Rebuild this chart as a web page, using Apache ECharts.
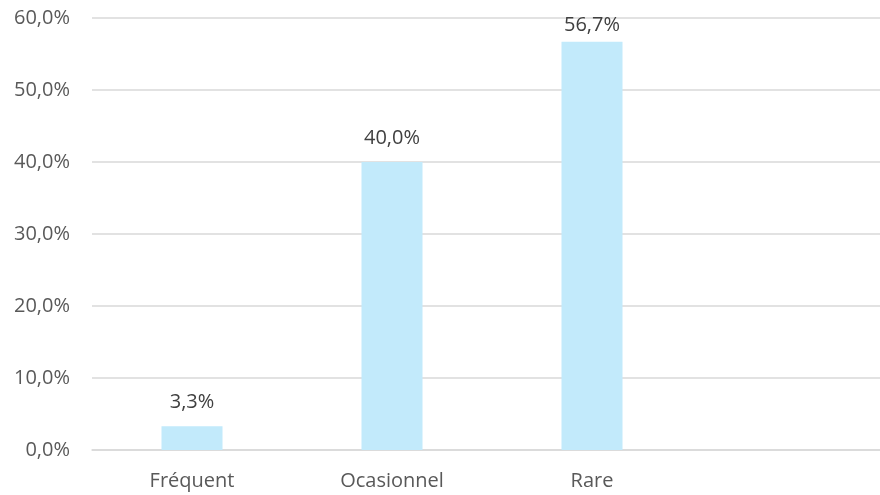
<!DOCTYPE html>
<html><head><meta charset="utf-8">
<script src="https://cdn.jsdelivr.net/npm/echarts@6/dist/echarts.min.js"></script>
<style>html,body{margin:0;padding:0;overflow:hidden;background:#fff;width:880px;height:495px}#c{width:892px;height:495px}</style>
</head><body><div id="c"></div>
<script>
const categories = ['Fréquent', 'Ocasionnel', 'Rare', ''];
const values = [3.3, 40.0, 56.7, null];
const yTicks = [0, 10, 20, 30, 40, 50, 60];
const fmt = v => v.toFixed(1).replace('.', ',') + '%';
const chart = echarts.init(document.getElementById('c'), null, {renderer: 'canvas'});
chart.setOption({
  animation: false,
  grid: {left: 92, right: 0, top: 18, bottom: 45, containLabel: false},
  xAxis: {
    type: 'category', data: categories,
    axisLine: {lineStyle: {color: '#D9D9D9', width: 1.5}},
    axisTick: {show: false},
    axisLabel: {color: '#595959', fontFamily: 'Open Sans', fontSize: 20, margin: 21}
  },
  yAxis: {
    type: 'value', min: yTicks[0], max: yTicks[yTicks.length - 1], interval: 10,
    axisLine: {show: false}, axisTick: {show: false},
    splitLine: {lineStyle: {color: '#D9D9D9', width: 1.5}},
    axisLabel: {color: '#595959', fontFamily: 'Open Sans', fontSize: 20, margin: 22, formatter: v => fmt(v)}
  },
  series: [{
    type: 'bar', data: values, barWidth: 61,
    itemStyle: {color: '#C2EAFB'},
    label: {show: true, position: 'top', distance: 14, color: '#404040', fontFamily: 'Open Sans', fontSize: 20,
      formatter: p => fmt(p.value)},
    labelLayout: p => ({dy: Math.max(0, 15 - p.labelRect.y)})
  }]
});
</script></body></html>
